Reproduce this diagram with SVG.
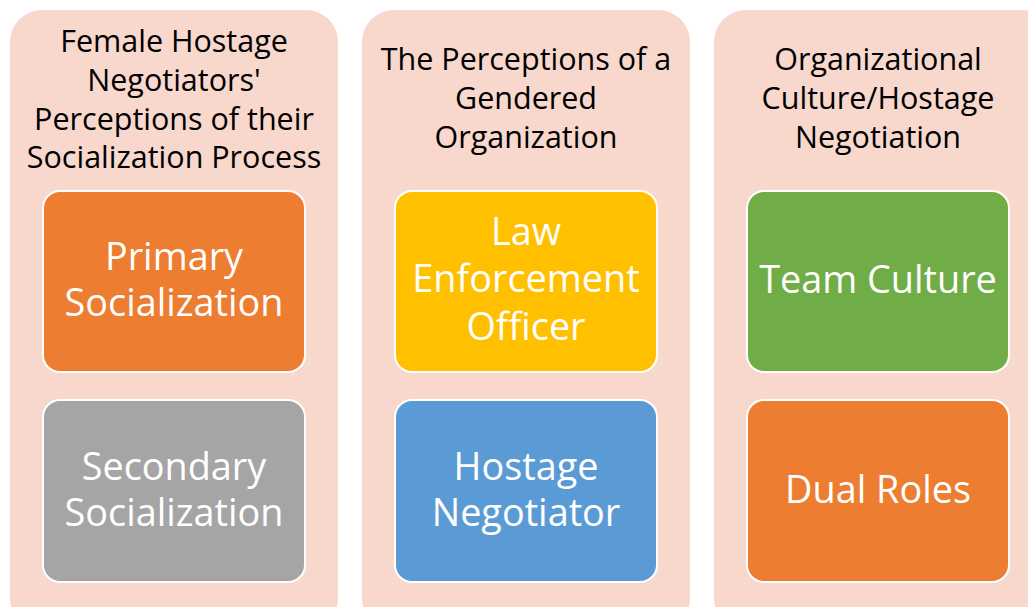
<svg xmlns="http://www.w3.org/2000/svg" width="1028" height="607" viewBox="0 0 1028 607">
  <style>
    .panel { fill: #F8D7CD; }
    .box { stroke: #FFFFFF; stroke-width: 2; }
    .head { font-family: "Open Sans", "Liberation Sans", sans-serif; font-size: 30.5px; fill: #000000; text-anchor: middle; }
    .lbl { font-family: "Open Sans", "Liberation Sans", sans-serif; font-size: 37.8px; fill: #FFFFFF; text-anchor: middle; }
  </style>
  <rect width="1028" height="607" fill="#FFFFFF"/>

  <!-- column 1 -->
  <g id="col-socialization">
    <rect class="panel" x="10" y="10" width="328" height="620" rx="32"/>
    <text class="head" x="174" y="52">Female Hostage</text>
    <text class="head" x="174" y="91">Negotiators'</text>
    <text class="head" x="174" y="130">Perceptions of their</text>
    <text class="head" x="174" y="168">Socialization Process</text>
  </g>
  <g id="node-primary">
    <rect class="box" x="43" y="191" width="262" height="181" rx="17" fill="#ED7D31"/>
    <text class="lbl" x="174" y="270">Primary</text>
    <text class="lbl" x="174" y="316">Socialization</text>
  </g>
  <g id="node-secondary">
    <rect class="box" x="43" y="400" width="262" height="182" rx="17" fill="#A5A5A5"/>
    <text class="lbl" x="174" y="480">Secondary</text>
    <text class="lbl" x="174" y="526">Socialization</text>
  </g>

  <!-- column 2 -->
  <g id="col-gendered">
    <rect class="panel" x="362" y="10" width="328" height="620" rx="32"/>
    <text class="head" x="526" y="70">The Perceptions of a</text>
    <text class="head" x="526" y="109">Gendered</text>
    <text class="head" x="526" y="148">Organization</text>
  </g>
  <g id="node-officer">
    <rect class="box" x="395" y="191" width="262" height="181" rx="17" fill="#FFC000"/>
    <text class="lbl" x="526" y="245">Law</text>
    <text class="lbl" x="526" y="292">Enforcement</text>
    <text class="lbl" x="526" y="340">Officer</text>
  </g>
  <g id="node-negotiator">
    <rect class="box" x="395" y="400" width="262" height="182" rx="17" fill="#5B9BD5"/>
    <text class="lbl" x="526" y="480">Hostage</text>
    <text class="lbl" x="526" y="526">Negotiator</text>
  </g>

  <!-- column 3 -->
  <g id="col-culture">
    <rect class="panel" x="714" y="10" width="340" height="620" rx="32"/>
    <text class="head" x="878" y="70">Organizational</text>
    <text class="head" x="878" y="109">Culture/Hostage</text>
    <text class="head" x="878" y="148">Negotiation</text>
  </g>
  <g id="node-team">
    <rect class="box" x="747" y="191" width="262" height="181" rx="17" fill="#70AD47"/>
    <text class="lbl" x="878" y="293">Team Culture</text>
  </g>
  <g id="node-dual">
    <rect class="box" x="747" y="400" width="262" height="182" rx="17" fill="#ED7D31"/>
    <text class="lbl" x="878" y="503">Dual Roles</text>
  </g>

  <g id="connectors"/>
</svg>
